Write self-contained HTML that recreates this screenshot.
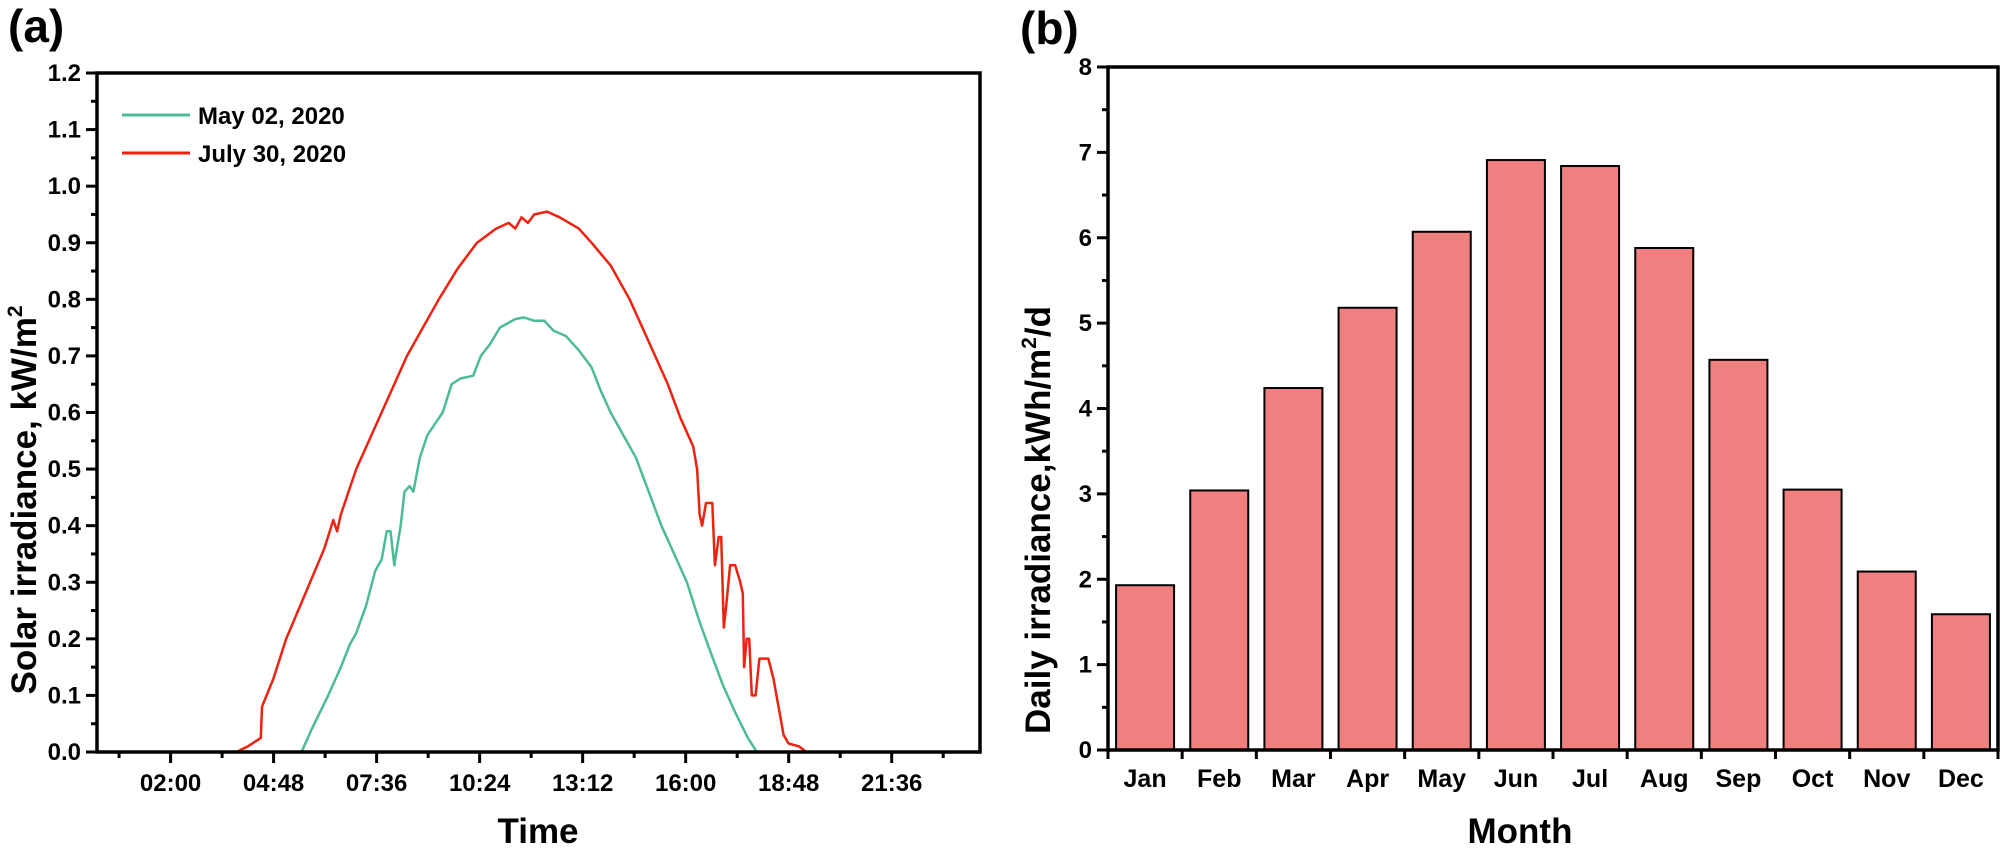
<!DOCTYPE html>
<html><head><meta charset="utf-8"><style>
body{margin:0;background:#fff}
svg{display:block;font-family:"Liberation Sans",Arial,sans-serif;font-weight:bold}
</style></head><body>
<svg id="s" width="2000" height="854" xmlns="http://www.w3.org/2000/svg"></svg>
<script>
const s=document.getElementById('s');let h='';
const L={x0:97,x1:980,y0:752,y1:73};
const hx=t=>L.x0+t*(L.x1-L.x0)/24, vy=v=>L.y0-v*(L.y0-L.y1)/1.2;
for(let i=0;i<=24;i++){let v=i*0.05;let y=vy(v);let maj=i%2==0;
 h+=`<line x1="${L.x0-(maj?11:6)}" y1="${y}" x2="${L.x0}" y2="${y}" stroke="#000" stroke-width="3"/>`;
 if(maj)h+=`<text x="${L.x0-16}" y="${y+8}" font-size="24" text-anchor="end">${(v).toFixed(1)}</text>`;}
const lab=['02:00','04:48','07:36','10:24','13:12','16:00','18:48','21:36'];
for(let k=0;k<17;k++){let t=0.6+1.4*k;if(t>24)break;let x=hx(t);let maj=k%2==1;
 h+=`<line x1="${x}" y1="${L.y0}" x2="${x}" y2="${L.y0+(maj?11:6)}" stroke="#000" stroke-width="3"/>`;
 if(maj)h+=`<text x="${x}" y="${L.y0+39}" font-size="24" text-anchor="middle">${lab[(k-1)/2]}</text>`;}
const S=1.272,dx=d=>d*S;
function path(arr,c){let p=arr.map(a=>`${dx(a[0]).toFixed(1)},${vy(a[1]).toFixed(1)}`).join(' ');
 return `<polyline points="${p}" fill="none" stroke="${c}" stroke-width="2.5" stroke-linejoin="round"/>`;}
const red=[[77,0],[186,0],[195,0.01],[205,0.025],[206,0.08],[215,0.13],[225,0.2],[240,0.28],[255,0.36],[262,0.41],[265,0.39],[268,0.42],[280,0.5],[300,0.6],[320,0.7],[345,0.8],[360,0.855],[375,0.9],[390,0.925],[400,0.935],[405,0.925],[410,0.945],[415,0.935],[420,0.95],[430,0.955],[440,0.945],[455,0.925],[465,0.9],[480,0.86],[495,0.8],[505,0.75],[515,0.7],[525,0.65],[535,0.59],[545,0.54],[548,0.5],[550,0.42],[552,0.4],[555,0.44],[560,0.44],[562,0.33],[565,0.38],[567,0.38],[569,0.22],[571,0.26],[574,0.33],[578,0.33],[582,0.3],[584,0.28],[585,0.15],[587,0.2],[589,0.2],[591,0.1],[594,0.1],[597,0.165],[604,0.165],[608,0.13],[612,0.08],[616,0.03],[620,0.015],[628,0.01],[634,0],[770,0]];
const grn=[[77,0],[237,0],[245,0.04],[258,0.1],[268,0.15],[275,0.19],[280,0.21],[288,0.26],[295,0.32],[300,0.34],[304,0.39],[307,0.39],[310,0.33],[312,0.36],[315,0.4],[318,0.46],[322,0.47],[325,0.46],[330,0.52],[336,0.56],[342,0.58],[348,0.6],[355,0.65],[362,0.66],[372,0.665],[378,0.7],[385,0.72],[393,0.75],[405,0.765],[412,0.768],[420,0.762],[428,0.762],[435,0.745],[445,0.735],[455,0.71],[465,0.68],[472,0.64],[480,0.6],[490,0.56],[500,0.52],[510,0.46],[520,0.4],[530,0.35],[540,0.3],[550,0.23],[558,0.18],[568,0.12],[578,0.07],[588,0.025],[595,0],[770,0]];
h+=path(grn,'#4DBB98')+path(red,'#EE2211');
h+=`<rect x="${L.x0}" y="${L.y1}" width="${L.x1-L.x0}" height="${L.y0-L.y1}" fill="none" stroke="#000" stroke-width="3.5"/>`;
h+=`<line x1="122" y1="115" x2="190" y2="115" stroke="#4DBB98" stroke-width="3"/><text x="198" y="124" font-size="24">May 02,  2020</text>`;
h+=`<line x1="122" y1="153" x2="190" y2="153" stroke="#EE2211" stroke-width="3"/><text x="198" y="162" font-size="24">July 30, 2020</text>`;
h+=`<text x="538" y="843" font-size="35" text-anchor="middle">Time</text>`;
h+=`<text transform="translate(36,500) rotate(-90)" font-size="35" text-anchor="middle">Solar irradiance, kW/m<tspan font-size="21" dy="-14">2</tspan></text>`;
h+=`<text x="8" y="42" font-size="46">(a)</text><text x="1020" y="44" font-size="46">(b)</text>`;
const R={x0:1108,x1:1998,y0:750,y1:67};const ry=v=>R.y0-v*(R.y0-R.y1)/8;
for(let i=0;i<=16;i++){let v=i*0.5,y=ry(v),maj=i%2==0;
 h+=`<line x1="${R.x0-(maj?11:6)}" y1="${y}" x2="${R.x0}" y2="${y}" stroke="#000" stroke-width="3"/>`;
 if(maj)h+=`<text x="${R.x0-16}" y="${y+8}" font-size="24" text-anchor="end">${v}</text>`;}
const m=['Jan','Feb','Mar','Apr','May','Jun','Jul','Aug','Sep','Oct','Nov','Dec'];
const val=[1.93,3.04,4.24,5.18,6.07,6.91,6.84,5.88,4.57,3.05,2.09,1.59];
const cw=(R.x1-R.x0)/12;
for(let i=0;i<12;i++){let c=R.x0+cw*(i+0.5);
 h+=`<rect x="${c-29}" y="${ry(val[i])}" width="58" height="${R.y0-ry(val[i])}" fill="#F08080" stroke="#000" stroke-width="2"/>`;
 h+=`<text x="${c}" y="${R.y0+37}" font-size="25" text-anchor="middle">${m[i]}</text>`;}
for(let i=0;i<=12;i++){let x=R.x0+cw*i;h+=`<line x1="${x}" y1="${R.y0}" x2="${x}" y2="${R.y0+9}" stroke="#000" stroke-width="3"/>`;}
h+=`<rect x="${R.x0}" y="${R.y1}" width="${R.x1-R.x0}" height="${R.y0-R.y1}" fill="none" stroke="#000" stroke-width="3.5"/>`;
h+=`<text x="1520" y="843" font-size="35" text-anchor="middle">Month</text>`;
h+=`<text transform="translate(1050,520) rotate(-90)" font-size="35" text-anchor="middle">Daily irradiance,kWh/m<tspan font-size="21" dy="-14">2</tspan><tspan dy="14">/d</tspan></text>`;
s.innerHTML=h;
</script>
</body></html>
